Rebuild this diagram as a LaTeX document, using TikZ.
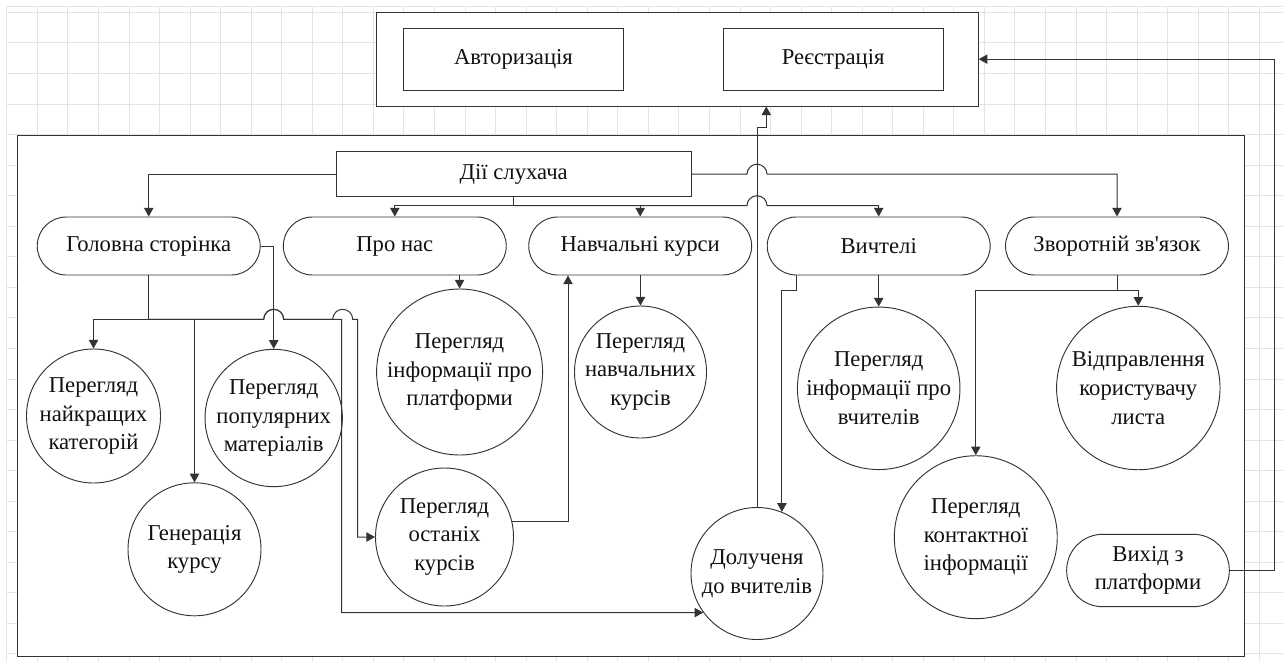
\documentclass[tikz,border=0pt]{standalone}
\usepackage{fontspec}
\setmainfont{Liberation Serif}
\usetikzlibrary{arrows.meta,calc}
\definecolor{ink}{HTML}{111111}
\definecolor{edge}{HTML}{333333}
\definecolor{gridc}{HTML}{E4E4E4}
\newcommand\dfont{\fontsize{17}{21.5}\selectfont}
\begin{document}
\begin{tikzpicture}[x=0.75pt,y=-0.75pt,
  gridline/.style={draw=gridc,line width=0.6pt},
  box/.style={draw=edge,fill=white,line width=0.7pt,inner sep=0pt,text=ink,font=\dfont,align=center},
  frame/.style={box},
  rect/.style={box,minimum width=165.3pt,minimum height=46.3pt},
  pill/.style={box,rounded corners=21.75pt,minimum width=167.2pt,minimum height=43.5pt},
  disc/.style={box,circle,inner sep=-20pt,minimum size=#1},
  wire/.style={draw=edge,line width=0.75pt},
  arr/.style={wire,-{Triangle[length=6.5pt,width=7pt]}}
]
\useasboundingbox (0,0) rectangle (1283,661);

% background grid
\foreach \i in {0,...,41} \draw[gridline] ({6.7+30.55*\i},6.7) -- ({6.7+30.55*\i},661);
\foreach \j in {0,...,21} \draw[gridline] (6.7,{12.3+30.55*\j}) -- (1283,{12.3+30.55*\j});
\draw[gridline] (6.7,6.7) -- (1283,6.7);

% frames
\node[frame,minimum width=451.2pt,minimum height=70.3pt] (topbox) at (677.5,59.15) {};
\node[frame,minimum width=920pt,minimum height=390.2pt] (mainbox) at (631,395.85) {};

% login / registration
\node[rect] (auth) at (513.5,59.15) {Авторизація};
\node[rect] (reg) at (833.2,59.15) {Реєстрація};

% listener actions
\node[box,minimum width=266.5pt,minimum height=33.75pt] (dii) at (513.7,174.2) {Дії слухача};

\node[pill] (home) at (148.7,246) {Головна сторінка};
\node[pill] (about) at (394.8,246) {Про нас};
\node[pill] (courses) at (640.2,246) {Навчальні курси};
\node[pill] (teach) at (878.7,246) {Вичтелі};
\node[pill] (feedback) at (1117,246) {Зворотній зв\textquotesingle язок};

\node[disc=100.5pt] (best) at (93.5,416) {Перегляд\\найкращих\\категорій};
\node[disc=99.75pt] (gen) at (194.5,549.3) {Генерація\\курсу};
\node[disc=103pt] (pop) at (273.7,418) {Перегляд\\популярних\\матеріалів};
\node[disc=124.5pt] (platf) at (459.6,372) {Перегляд\\інформації про\\платформи};
\node[disc=103.5pt] (last) at (444.5,537) {Перегляд\\останіх\\курсів};
\node[disc=99pt] (cinfo) at (640.5,372) {Перегляд\\навчальних\\курсів};
\node[disc=99pt] (join) at (757,573.5) {Долученя\\до вчителів};
\node[disc=121.9pt] (tinfo) at (878.7,388.3) {Перегляд\\інформації про\\вчителів};
\node[disc=122.6pt] (send) at (1138.3,388) {Відправлення\\користувачу\\листа};
\node[disc=122.2pt] (contact) at (975.8,537.2) {Перегляд\\контактної\\інформації};
\node[box,rounded corners=27pt,minimum width=122pt,minimum height=54.3pt] (exit) at (1148,570.5) {Вихід з\\платформи};

% helper levels for the connectors
\coordinate (busy) at (0,205.7);
\coordinate (hby) at (0,319.3);
\coordinate (fby) at (0,290);
\coordinate (jg) at (766.3,127.7);
\coordinate (dx1) at (341.7,319.3);
\coordinate (dx2) at (357.7,319.3);
\coordinate (exitx) at (1274.3,0);

% from the listener actions box
\draw[arr] (dii.west) -| (home.north);
\draw[wire] (dii.south) -- (dii.south |- busy);
\draw[arr] (dii.south |- busy) -| (about.north);
\draw[arr] (dii.south |- busy) -| (courses.north);
\draw[arr] (dii.south |- busy) -- ($(join.north |- busy)+(-10,0)$)
  arc[start angle=180,end angle=0,radius=7.5pt] -| (teach.north);
\draw[arr] (dii.east) -- ($(join.north |- dii.east)+(-10,0)$)
  arc[start angle=180,end angle=0,radius=7.5pt] -| (feedback.north);

% joining teachers leads back to registration
\draw[arr] (join.north) -- (join.north |- jg) -- (jg) -- (jg |- topbox.south);

% home page
\draw[wire] (home.south) -- (home.south |- hby);
\draw[arr] (home.south |- hby) -| (best.north);
\draw[arr] (home.south |- hby) -| (gen.north);
\draw[arr] (home.south |- hby) -- ($(pop.north |- hby)+(-10,0)$)
  arc[start angle=180,end angle=0,radius=7.5pt] -- (dx1) |- (join.216);
\draw[arr] (home.south |- hby) -- ($(pop.north |- hby)+(-10,0)$)
  arc[start angle=180,end angle=0,radius=7.5pt] -- ($(dx1)+(-9,0)$)
  arc[start angle=180,end angle=0,radius=7.5pt] -- (dx2) |- (last.west);
\draw[arr] (home.east) -| (pop.north);

% about, courses, teachers
\draw[arr] (platf.north |- about.south) -- (platf.north);
\draw[arr] (cinfo.north |- courses.south) -- (cinfo.north);
\draw[arr] (last.13) -| ($(courses.south)+(-72.2,0)$);
\draw[arr] (tinfo.north |- teach.south) -- (tinfo.north);
\draw[arr] ($(teach.south)+(-82.4,0)$) -- ++(0,15) -| (join.68);

% feedback
\draw[wire] (feedback.south) -- (feedback.south |- fby);
\draw[arr] (feedback.south |- fby) -| (send.north);
\draw[arr] (feedback.south |- fby) -| (contact.north);

% exit back to the top
\draw[arr] (exit.east) -- (exit.east -| exitx) |- (topbox.east);
\end{tikzpicture}
\end{document}
